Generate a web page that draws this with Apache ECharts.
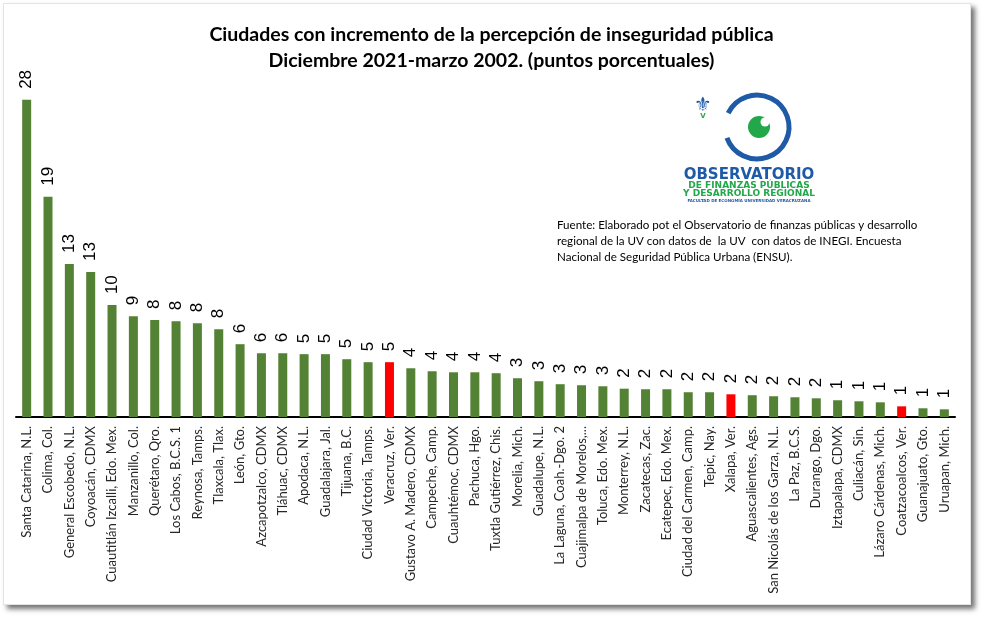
<!DOCTYPE html>
<html>
<head>
<meta charset="utf-8">
<script src="https://cdn.jsdelivr.net/npm/echarts@6/dist/echarts.min.js"></script>
<style>
  html, body { margin:0; padding:0; background:#fff; }
  #frame { position:absolute; left:3px; top:3px; width:966px; height:600px; background:#fff;
           border:1px solid #e4e4e4; box-shadow:4px 4px 5px rgba(0,0,0,0.55); }
  #chart { position:absolute; left:0; top:0; width:983px; height:617px; }
</style>
</head>
<body>
<div id="frame"></div>
<div id="chart"></div>
<script>
const titleLines = [
  'Ciudades con incremento de la percepción de inseguridad pública',
  'Diciembre 2021-marzo 2002. (puntos porcentuales)'
];
const sourceLines = [
  'Fuente: Elaborado pot el Observatorio de finanzas públicas y desarrollo',
  'regional de la UV con datos de  la UV  con datos de INEGI. Encuesta',
  'Nacional de Seguridad Pública Urbana (ENSU).'
];
const cities = [
  'Santa Catarina, N.L.', 'Colima, Col.', 'General Escobedo, N.L.', 'Coyoacán, CDMX',
  'Cuautitlán Izcalli, Edo. Mex.', 'Manzanillo, Col.', 'Querétaro, Qro.', 'Los Cabos, B.C.S. 1',
  'Reynosa, Tamps.', 'Tlaxcala, Tlax.', 'León, Gto.', 'Azcapotzalco, CDMX',
  'Tláhuac, CDMX', 'Apodaca, N.L.', 'Guadalajara, Jal.', 'Tijuana, B.C.',
  'Ciudad Victoria, Tamps.', 'Veracruz, Ver.', 'Gustavo A. Madero, CDMX', 'Campeche, Camp.',
  'Cuauhtémoc, CDMX', 'Pachuca, Hgo.', 'Tuxtla Gutiérrez, Chis.', 'Morelia, Mich.',
  'Guadalupe, N.L.', 'La Laguna, Coah.-Dgo. 2', 'Cuajimalpa de Morelos,...', 'Toluca, Edo. Mex.',
  'Monterrey, N.L.', 'Zacatecas, Zac.', 'Ecatepec, Edo. Mex.', 'Ciudad del Carmen, Camp.',
  'Tepic, Nay.', 'Xalapa, Ver.', 'Aguascalientes, Ags.', 'San Nicolás de los Garza, N.L.',
  'La Paz, B.C.S.', 'Durango, Dgo.', 'Iztapalapa, CDMX', 'Culiacán, Sin.',
  'Lázaro Cárdenas, Mich.', 'Coatzacoalcos, Ver.', 'Guanajuato, Gto.', 'Uruapan, Mich.'
];
const increase = [
  27.66, 19.21, 13.34, 12.64,
  9.76, 8.79, 8.45, 8.36,
  8.18, 7.66, 6.35, 5.56,
  5.56, 5.48, 5.48, 5.04,
  4.78, 4.78, 4.25, 3.99,
  3.90, 3.90, 3.82, 3.38,
  3.12, 2.86, 2.77, 2.68,
  2.47, 2.42, 2.42, 2.16,
  2.16, 1.98, 1.90, 1.81,
  1.72, 1.63, 1.46, 1.37,
  1.28, 0.93, 0.76, 0.67
];
const highlighted = ['Veracruz, Ver.', 'Xalapa, Ver.', 'Coatzacoalcos, Ver.'];

const GREEN = '#548235', RED = '#ff0000';
const chart = echarts.init(document.getElementById('chart'), null, { renderer: 'canvas' });

const logoBlue = '#1f5aa6', logoGreen = '#22a84a';

chart.setOption({
  backgroundColor: 'transparent',
  animation: false,
  title: {
    text: titleLines.join('\n'),
    left: 'center',
    top: 17,
    textStyle: { fontFamily: 'Lato', fontWeight: 'bold', fontSize: 19.5, lineHeight: 26, color: '#000' }
  },
  grid: { left: 16, right: 28, top: 73, bottom: 200, containLabel: false },
  xAxis: {
    type: 'category',
    data: cities,
    axisLine: { lineStyle: { color: '#000', width: 2 } },
    axisTick: { show: false },
    axisLabel: { interval: 0, rotate: 90, margin: 9, fontFamily: 'Lato', fontSize: 13, color: '#262626' }
  },
  yAxis: { type: 'value', min: 0, max: 30, show: false, splitLine: { show: false } },
  series: [{
    type: 'bar',
    data: increase,
    barWidth: 9,
    itemStyle: { color: p => highlighted.includes(cities[p.dataIndex]) ? RED : GREEN },
    label: {
      show: true, position: 'top', rotate: 90, align: 'left', verticalAlign: 'middle',
      distance: 11, fontFamily: 'Liberation Sans', fontSize: 17, color: '#000',
      formatter: p => Math.round(p.value)
    }
  }],
  graphic: [
    { type: 'text', left: 557, top: 217, style: { text: sourceLines.join('\n'), font: '11.6px Lato', lineHeight: 16, fill: '#000' } },
    { type: 'arc', shape: { cx: 757, cy: 127, r: 32, startAngle: Math.PI + 0.45, endAngle: Math.PI - 0.35, clockwise: true },
      style: { stroke: logoBlue, lineWidth: 5, fill: null } },
    { type: 'circle', shape: { cx: 759, cy: 127, r: 11 }, style: { fill: logoGreen } },
    { type: 'circle', shape: { cx: 765, cy: 122, r: 4.5 }, style: { fill: '#fff' } },
    { type: 'text', x: 703, y: 106, style: { text: '⚜', font: '20px DejaVu Sans', fill: logoBlue, align: 'center', verticalAlign: 'middle' } },
    { type: 'text', x: 703, y: 116, style: { text: 'V', font: 'bold 7px DejaVu Sans', fill: logoGreen, align: 'center', verticalAlign: 'middle' } },
    { type: 'text', x: 749, y: 175, style: { text: 'OBSERVATORIO', font: 'bold 15px DejaVu Sans', fill: logoBlue, align: 'center', verticalAlign: 'middle' } },
    { type: 'text', x: 749, y: 186, style: { text: 'DE FINANZAS PÚBLICAS', font: 'bold 9px DejaVu Sans', fill: logoGreen, align: 'center', verticalAlign: 'middle' } },
    { type: 'text', x: 749, y: 194, style: { text: 'Y DESARROLLO REGIONAL', font: 'bold 9px DejaVu Sans', fill: logoGreen, align: 'center', verticalAlign: 'middle' } },
    { type: 'text', x: 749, y: 201, style: { text: 'FACULTAD DE ECONOMÍA UNIVERSIDAD VERACRUZANA', font: 'bold 4px DejaVu Sans', fill: logoBlue, align: 'center', verticalAlign: 'middle' } }
  ]
});
</script>
</body>
</html>
